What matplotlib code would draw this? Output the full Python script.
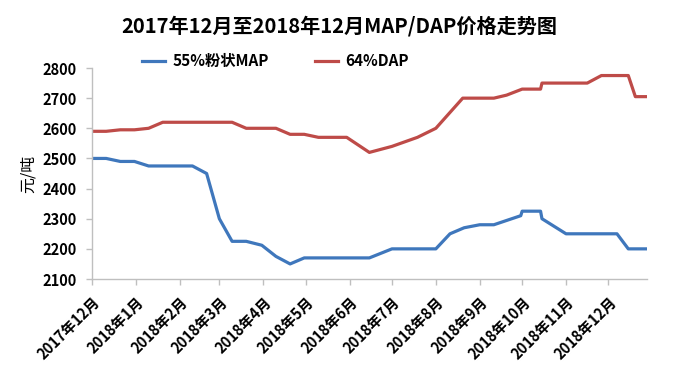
import pandas as pd
import matplotlib
matplotlib.use('Agg')
import matplotlib.pyplot as plt
import matplotlib.dates as mdates

plt.rcParams['font.family'] = ['Noto Sans CJK SC', 'DejaVu Sans']

# 55%粉状MAP 价格 (元/吨)
datas_map = ['2017-12-01', '2017-12-11', '2017-12-21', '2017-12-31', '2018-01-10',
             '2018-02-10', '2018-02-20', '2018-03-01', '2018-03-10', '2018-03-20',
             '2018-03-31', '2018-04-10', '2018-04-20', '2018-04-30', '2018-06-15',
             '2018-07-01', '2018-08-01', '2018-08-11', '2018-08-21', '2018-09-01',
             '2018-09-11', '2018-09-30', '2018-10-01', '2018-10-14', '2018-10-15',
             '2018-11-01', '2018-12-07', '2018-12-15', '2018-12-28']
precos_map = [2500, 2500, 2490, 2490, 2475,
              2475, 2450, 2300, 2225, 2225,
              2212, 2175, 2150, 2170, 2170,
              2200, 2200, 2250, 2270, 2280,
              2280, 2310, 2325, 2325, 2300,
              2250, 2250, 2200, 2200]

# 64%DAP 价格 (元/吨)
datas_dap = ['2017-12-01', '2017-12-11', '2017-12-21', '2017-12-31', '2018-01-10',
             '2018-01-20', '2018-03-10', '2018-03-20', '2018-04-10', '2018-04-20',
             '2018-04-30', '2018-05-10', '2018-05-30', '2018-06-15', '2018-07-01',
             '2018-07-19', '2018-08-01', '2018-08-20', '2018-09-11', '2018-09-20',
             '2018-10-01', '2018-10-14', '2018-10-15', '2018-11-16', '2018-11-26',
             '2018-12-15', '2018-12-20', '2018-12-28']
precos_dap = [2590, 2590, 2595, 2595, 2600,
              2620, 2620, 2600, 2600, 2580,
              2580, 2570, 2570, 2520, 2540,
              2570, 2600, 2700, 2700, 2710,
              2730, 2730, 2750, 2750, 2775,
              2775, 2705, 2705]

nomes = ['55%粉状MAP', '64%DAP']
cores = ['#3F77BC', '#BE4B48']
titulo = '2017年12月至2018年12月MAP/DAP价格走势图'

datas_map = pd.to_datetime(datas_map)
datas_dap = pd.to_datetime(datas_dap)

fig = plt.figure(figsize=(6.79, 3.81), dpi=100)
ax = fig.add_axes([0.1355, 0.2677, 0.8169, 0.5538])

l1, = ax.plot(datas_map, precos_map, color=cores[0], lw=2.3)
l2, = ax.plot(datas_dap, precos_dap, color=cores[1], lw=2.3)

# Eixos
ax.set_xlim(pd.Timestamp('2017-12-01'), pd.Timestamp('2018-12-28'))
ax.set_ylim(2100, 2800)
ax.set_yticks(range(2100, 2801, 100))

ax.xaxis.set_major_locator(mdates.MonthLocator())
ax.xaxis.set_major_formatter(plt.FuncFormatter(
    lambda v, pos: '{}年{}月'.format(mdates.num2date(v).year, mdates.num2date(v).month)))

for lado in ['top', 'right']:
    ax.spines[lado].set_visible(False)
for lado in ['left', 'bottom']:
    ax.spines[lado].set_color('#BFBFBF')
    ax.spines[lado].set_linewidth(1.0)

ax.tick_params(axis='both', color='#BFBFBF', length=4, width=1)
ax.tick_params(axis='y', labelsize=10.5, pad=7)
ax.tick_params(axis='x', labelsize=10.5, pad=7)
for t in ax.get_yticklabels():
    t.set_fontweight('bold')
for t in ax.get_xticklabels():
    t.set_fontweight('bold')
    t.set_rotation(45)
    t.set_ha('right')
    t.set_rotation_mode('anchor')

ax.set_ylabel('元/吨', fontsize=11.5)
ax.yaxis.set_label_coords(-0.1, 0.5)

fig.suptitle(titulo, fontsize=14.5, fontweight='bold', x=0.5, y=0.96)

fig.legend([l1, l2], nomes, loc='center', bbox_to_anchor=(0.406, 0.84), ncol=2,
           frameon=False, handlelength=1.5, handletextpad=0.5, columnspacing=3.0,
           prop={'size': 11, 'weight': 'bold'})

plt.savefig('out.png', dpi=100)
